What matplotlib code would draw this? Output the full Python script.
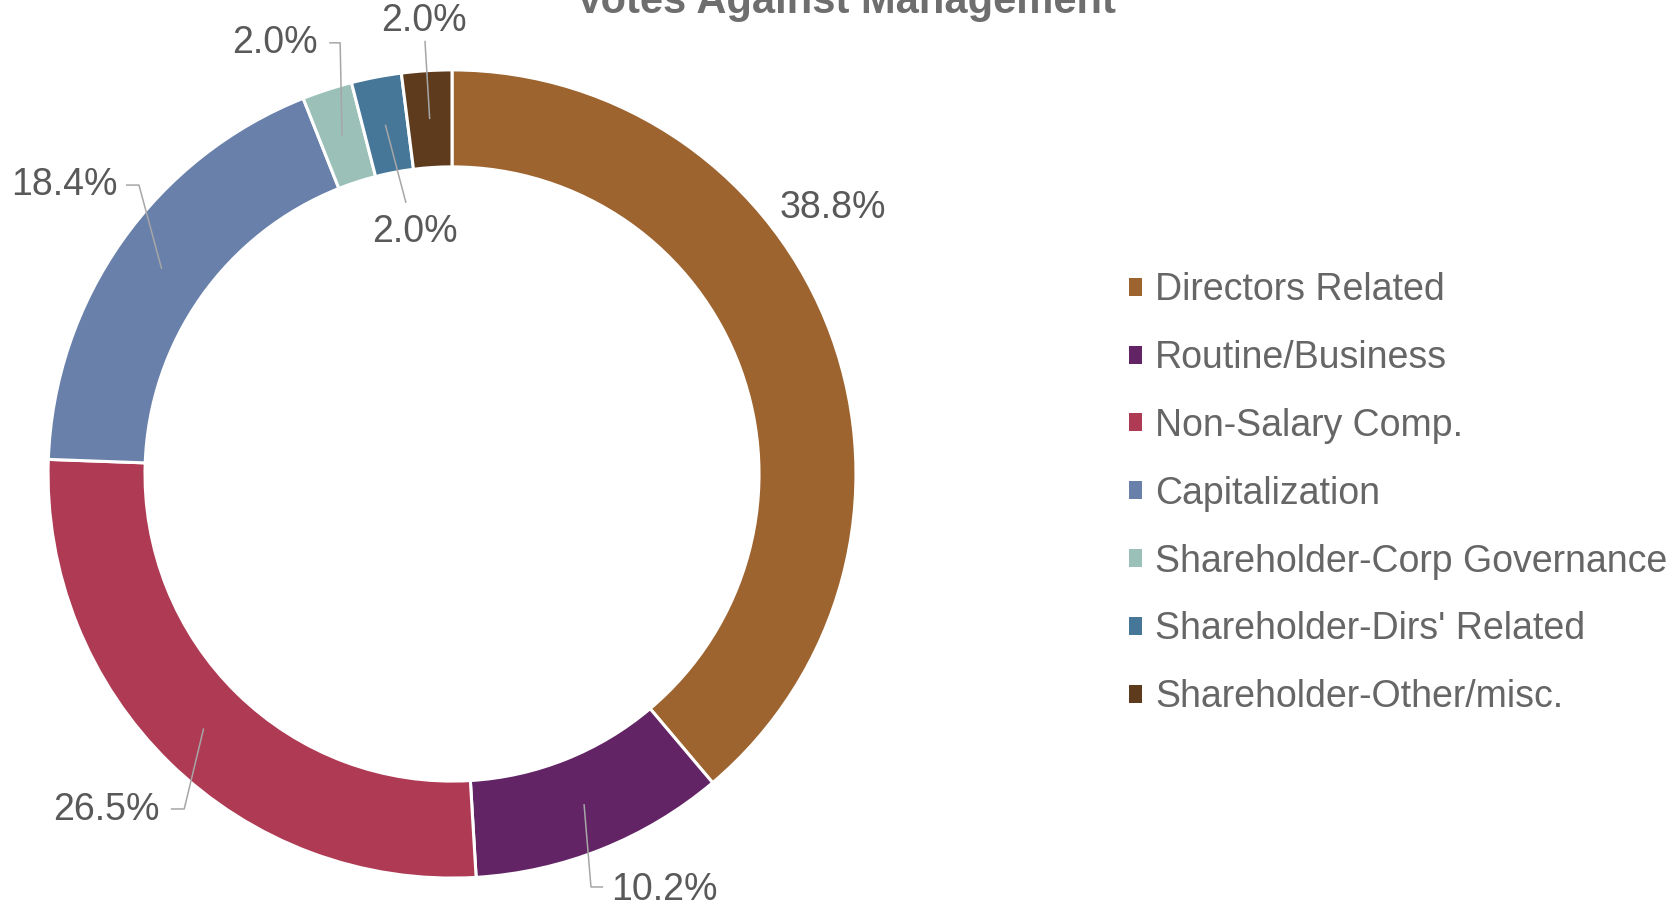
import matplotlib.pyplot as plt
from matplotlib.patches import Patch
import numpy as np

categories = ['Directors Related', 'Routine/Business', 'Non-Salary Comp.', 'Capitalization',
              'Shareholder-Corp Governance', "Shareholder-Dirs' Related", 'Shareholder-Other/misc.']
shares = [38.8, 10.2, 26.5, 18.4, 2.0, 2.0, 2.0]
colors = ['#9D6430', '#632466', '#AE3A53', '#6880AA', '#9BC0B8', '#467799', '#5E3B1C']

# label placement (data coords, pie radius = 1)
label_pos = [(0.81, 0.658), (0.394, -1.03), (-0.723, -0.832), (-0.827, 0.715),
             (-0.332, 1.067), (-0.092, 0.599), (-0.069, 1.121)]
label_ha = ['left', 'left', 'right', 'right', 'right', 'center', 'center']
leaders = [None,
           [(0.344, -1.022), (0.374, -1.022)],
           [(-0.663, -0.829), (-0.696, -0.829)],
           [(-0.775, 0.715), (-0.807, 0.715)],
           [(-0.277, 1.067), (-0.304, 1.067)],
           [(-0.114, 0.671)],
           [(-0.067, 1.072)]]

plt.rcParams['font.family'] = ['Liberation Sans', 'DejaVu Sans']

fig = plt.figure(figsize=(16.76, 9.10), dpi=100)
ax = fig.add_axes([0, 0, 1, 1])
wedges, _ = ax.pie(shares, colors=colors, startangle=90, counterclock=False, radius=1,
                   wedgeprops=dict(width=0.24, edgecolor='white', linewidth=2.2))
ax.set_xlim(-1.119, 3.030)
ax.set_ylim(-1.079, 1.173)
ax.set_aspect('auto')
ax.axis('off')

for i, w in enumerate(wedges):
    mid = np.deg2rad((w.theta1 + w.theta2) / 2)
    if leaders[i] is not None:
        pts = [(0.88 * np.cos(mid), 0.88 * np.sin(mid))] + leaders[i]
        xs, ys = zip(*pts)
        ax.plot(xs, ys, color='#A6A6A6', lw=1.1, solid_capstyle='butt')
    ax.text(label_pos[i][0], label_pos[i][1], '%.1f%%' % shares[i], ha=label_ha[i],
            va='center', fontsize=27, color='#595959')

handles = [Patch(facecolor=c) for c in colors]
fig.legend(handles, categories, loc='upper left', bbox_to_anchor=(0.6736, 0.701),
           frameon=False, fontsize=27, labelcolor='#666666', handlelength=0.36,
           handleheight=0.36, handletextpad=0.33, labelspacing=0.85,
           borderaxespad=0, borderpad=0)

fig.text(0.505, 0.986, 'Votes Against Management', ha='center', va='baseline',
         fontsize=30, fontweight='bold', color='#6E6E6E')

fig.savefig('out.png', dpi=100)
